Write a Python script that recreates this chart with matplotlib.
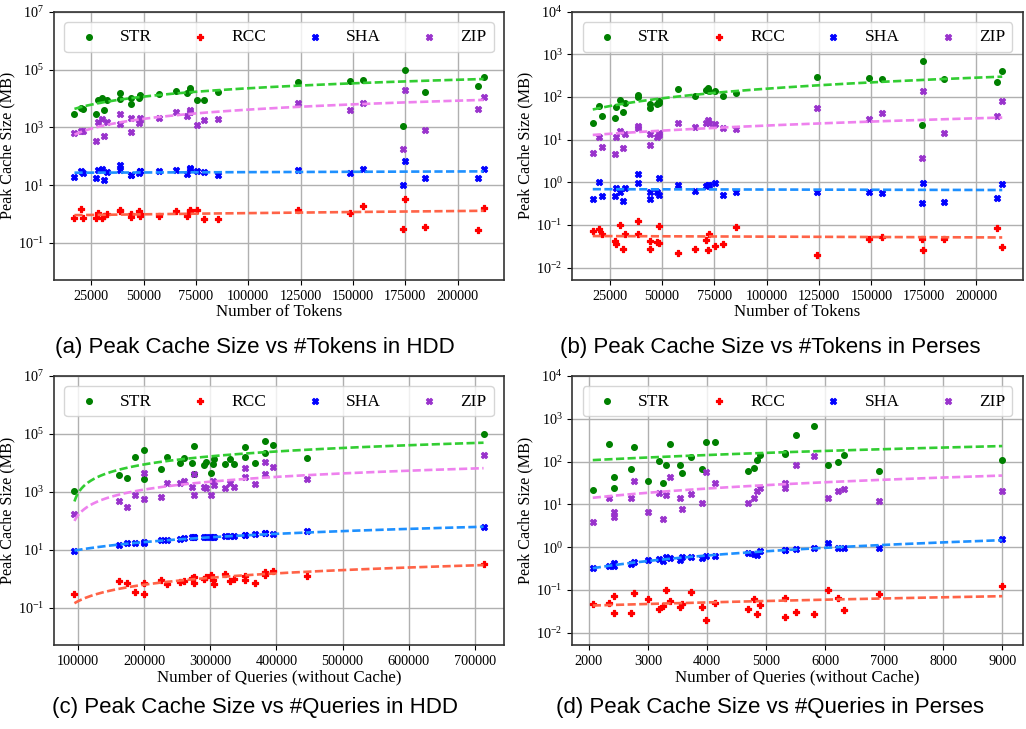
import numpy as np
import matplotlib
matplotlib.use("Agg")
import matplotlib.pyplot as plt
from matplotlib.ticker import NullLocator

plt.rcParams['font.family'] = ['Liberation Serif', 'DejaVu Serif']
plt.rcParams['mathtext.fontset'] = 'stix'

# ---------------- data ----------------
methods = ["STR", "RCC", "SHA", "ZIP"]

tokens = [17000, 19900, 21200, 27500, 28300, 30200, 31200, 32600, 38700, 38700,
          44100, 44100, 47800, 48500, 48500, 57600, 65600, 70800, 72100, 72400,
          75300, 79100, 85500, 123800, 148800, 155000, 173900, 174700, 184400,
          209700, 212400]

hdd_str = [2950, 4700, 4300, 2950, 8900, 10000, 4000, 9000, 15000, 9500, 6300, 10200,
           10200, 13400, 12000, 14500, 17500, 15000, 22700, 20000, 8500, 9000, 16500,
           37000, 40500, 42500, 1150, 100000, 16300, 28000, 57000]
hdd_rcc = [0.74, 1.45, 0.74, 0.72, 1.12, 0.72, 0.89, 0.97, 1.38, 1.24, 0.81, 0.98,
           1.24, 0.89, 1.0, 0.89, 1.24, 0.87, 1.38, 1.3, 1.38, 0.66, 0.66, 1.35, 1.07,
           1.95, 0.30, 3.4, 0.35, 0.29, 1.6]
hdd_sha = [19.5, 30, 27, 17.5, 33, 35, 15, 29, 48, 33, 22, 23, 27, 32, 30, 30, 34, 25,
           39, 36, 30, 29, 22, 33, 27, 36, 9.8, 66, 17.5, 17.5, 37]
hdd_zip = [620, 720, 760, 330, 1480, 1950, 510, 1580, 2950, 1350, 2100, 680, 1400, 2040,
           1800, 2040, 3400, 2400, 4050, 3500, 1200, 1740, 2000, 6900, 4000, 7200, 178,
           19500, 800, 4300, 11200]

perses_str = [24, 62, 35, 33, 59, 85, 44, 73, 112, 100, 68, 56, 68, 82, 72, 155, 105,
              146, 162, 140, 140, 105, 126, 290, 280, 260, 22, 700, 260, 225, 415]
perses_rcc = [0.071, 0.079, 0.062, 0.042, 0.036, 0.10, 0.028, 0.060, 0.123, 0.061,
              0.043, 0.028, 0.039, 0.093, 0.038, 0.022, 0.027, 0.045, 0.026, 0.062,
              0.033, 0.035, 0.089, 0.020, 0.047, 0.052, 0.046, 0.026, 0.047, 0.085, 0.030]
perses_sha = [0.41, 1.0, 0.49, 0.49, 0.72, 0.59, 0.36, 0.72, 1.55, 0.99, 0.58, 0.41,
              0.58, 1.23, 0.50, 0.87, 0.63, 0.81, 0.87, 0.85, 0.98, 0.51, 0.58, 0.59,
              0.60, 0.56, 0.33, 0.95, 0.35, 0.43, 0.89]
perses_zip = [5.0, 11.8, 6.6, 4.6, 11.3, 16.1, 6.5, 13.9, 21, 19, 13.3, 7.6, 11.7, 14.1,
              13, 25, 20, 24, 29, 25, 23, 19, 18, 56, 31, 43, 3.8, 141, 14, 35, 82]

hdd_queries = [95000, 162000, 174600, 187200, 199800, 200800, 226000, 234100, 254300,
               260800, 272900, 275500, 275500, 290600, 293100, 300700, 304200, 305700,
               322400, 329900, 336000, 352100, 352100, 367700, 382400, 382400, 395500,
               446900, 713100]
hddq_str = [1110, 3900, 2970, 16600, 28200, 2880, 6200, 16200, 10300, 14900, 10300, 39800,
            4150, 8700, 10500, 4400, 9300, 13500, 9300, 13500, 9300, 36000, 16500, 10300,
            57000, 22700, 42700, 15200, 100000]
hddq_rcc = [0.30, 0.85, 0.71, 0.36, 0.29, 0.75, 0.93, 0.68, 0.81, 0.88, 1.05, 1.2, 0.75,
            0.97, 1.2, 1.37, 0.93, 0.68, 1.45, 0.88, 0.97, 1.26, 0.95, 0.75, 1.37, 1.67,
            1.95, 1.26, 3.3]
hddq_sha = [9.5, 14.7, 17, 17.8, 17.8, 18.3, 22, 22, 24, 25, 27, 27.5, 27.5, 29, 29, 29,
            29, 29, 31, 31, 31, 33, 33, 35, 37.6, 37.6, 35.5, 46, 63]
hddq_zip = [178, 500, 310, 800, 4400, 590, 660, 2000, 2100, 2300, 1450, 4150, 790, 1500,
            1340, 790, 2300, 1740, 1340, 2000, 1450, 6900, 3400, 1900, 11200, 4150, 7100,
            2900, 19000]

perses_queries = [2068, 2344, 2423, 2435, 2717, 2762, 3005, 3191, 3259, 3315, 3383, 3552,
                  3580, 3739, 3914, 3993, 4134, 4693, 4800, 4840, 4896, 5314, 5314, 5512,
                  5810, 6048, 6222, 6324, 6922, 9000]
persesq_str = [22, 260, 44, 24, 66, 222, 35, 104, 32, 85, 260, 83, 55, 126, 66, 290, 280,
               59, 72, 107, 142, 155, 150, 415, 690, 81, 98, 142, 61, 110]
persesq_rcc = [0.046, 0.050, 0.029, 0.073, 0.029, 0.085, 0.062, 0.036, 0.042, 0.10, 0.055,
               0.039, 0.046, 0.089, 0.039, 0.020, 0.048, 0.036, 0.062, 0.027, 0.045, 0.063,
               0.023, 0.030, 0.027, 0.097, 0.063, 0.033, 0.081, 0.123]
persesq_sha = [0.33, 0.36, 0.36, 0.43, 0.40, 0.45, 0.49, 0.52, 0.48, 0.59, 0.57, 0.49,
               0.59, 0.59, 0.56, 0.61, 0.62, 0.74, 0.68, 0.65, 0.82, 0.87, 0.85, 0.89,
               0.97, 1.26, 0.97, 0.97, 0.97, 1.55]
persesq_zip = [3.8, 14.2, 6.7, 5.1, 13.7, 35, 6.7, 18.7, 4.5, 16.2, 43, 14.2, 7.8, 17.8,
               11, 56, 31, 11, 13.7, 20, 23.5, 31, 24.5, 81, 138, 13.7, 21, 23, 12, 20]

# linear trend lines (y = a + b*x), given by their value at the smallest and largest x
# order per panel: STR, RCC, SHA, ZIP
trend_start_a = [4350, 0.92, 27, 560]
trend_end_a = [47000, 1.3, 30, 8900]
trend_start_b = [51, 0.055, 0.69, 12.9]
trend_end_b = [300, 0.051, 0.66, 33]
trend_start_c = [470, 0.145, 9.5, 100]
trend_end_c = [50000, 3.0, 63, 6600]
trend_start_d = [108, 0.043, 0.32, 14.2]
trend_end_d = [230, 0.071, 1.45, 47]

xticks_tokens = [25000, 50000, 75000, 100000, 125000, 150000, 175000, 200000]
xticks_hddq = [100000, 200000, 300000, 400000, 500000, 600000, 700000]
xticks_persesq = [2000, 3000, 4000, 5000, 6000, 7000, 8000, 9000]
yticks_hdd = [1e-1, 1e1, 1e3, 1e5, 1e7]
yticks_perses = [1e-2, 1e-1, 1e0, 1e1, 1e2, 1e3, 1e4]

captions = ["(a) Peak Cache Size vs #Tokens in HDD",
            "(b) Peak Cache Size vs #Tokens in Perses",
            "(c) Peak Cache Size vs #Queries in HDD",
            "(d) Peak Cache Size vs #Queries in Perses"]
xlabels = ["Number of Tokens", "Number of Tokens",
           "Number of Queries (without Cache)", "Number of Queries (without Cache)"]

# ---------------- styling ----------------
point_colors = ["green", "red", "blue", "darkorchid"]
line_colors = ["limegreen", "tomato", "dodgerblue", "violet"]
markers = ["o", "P", "X", "X"]
sizes = [17, 20, 19, 19]

panels = [
    (tokens, [hdd_str, hdd_rcc, hdd_sha, hdd_zip], trend_start_a, trend_end_a,
     xticks_tokens, yticks_hdd, (10**-2.28, 1e7)),
    (tokens, [perses_str, perses_rcc, perses_sha, perses_zip], trend_start_b, trend_end_b,
     xticks_tokens, yticks_perses, (10**-2.29, 1e4)),
    (hdd_queries, [hddq_str, hddq_rcc, hddq_sha, hddq_zip], trend_start_c, trend_end_c,
     xticks_hddq, yticks_hdd, (10**-2.28, 1e7)),
    (perses_queries, [persesq_str, persesq_rcc, persesq_sha, persesq_zip], trend_start_d,
     trend_end_d, xticks_persesq, yticks_perses, (10**-2.29, 1e4)),
]

W, H = 1026, 729
fig = plt.figure(figsize=(W / 100, H / 100), dpi=100)

boxes = [(54, 11.7, 504, 280), (572.3, 11.7, 1022.7, 280),
         (54, 376, 504, 645), (572.3, 376, 1022.7, 645)]

for i, (xs, ys_list, t0, t1, xt, yt, ylim) in enumerate(panels):
    l, t, r, b = boxes[i]
    ax = fig.add_axes([l / W, 1 - b / H, (r - l) / W, (b - t) / H])
    x = np.asarray(xs, dtype=float)
    xx = np.linspace(x.min(), x.max(), 400)
    for k, ys in enumerate(ys_list):
        y = np.asarray(ys, dtype=float)
        ax.scatter(x, y, s=sizes[k], marker=markers[k], color=point_colors[k],
                   linewidths=0.9, label=methods[k], zorder=2)
        slope = (t1[k] - t0[k]) / (x.max() - x.min())
        yy = t0[k] + slope * (xx - x.min())
        ax.plot(xx, yy, linestyle=(0, (3.1, 1.3)), color=line_colors[k], lw=1.9, zorder=3)
    ax.set_yscale("log")
    ax.set_ylim(*ylim)
    ax.set_yticks(yt)
    ax.yaxis.set_minor_locator(NullLocator())
    ax.set_xticks(xt)
    ax.set_xticklabels([str(v) for v in xt])
    ax.tick_params(labelsize=10.3, length=3.5)
    ax.grid(True, color="#b0b0b0", lw=1.0)
    ax.set_axisbelow(True)
    for sp in ax.spines.values():
        sp.set_color("#333333")
        sp.set_linewidth(1.2)
    ax.set_xlabel(xlabels[i], fontsize=12.2, labelpad=1)
    ax.set_ylabel("Peak Cache Size (MB)", fontsize=11.6, labelpad=2)
    ax.legend(loc="upper center", ncol=4, mode="expand", bbox_to_anchor=(0, 0, 1, 1),
              borderaxespad=0.6, fontsize=12.5, markerscale=1.0, scatterpoints=1,
              handletextpad=0.8, fancybox=True)

cap_x = [255 / W, 770 / W, 255 / W, 770 / W]
cap_y = [1 - 347 / H, 1 - 347 / H, 1 - 708 / H, 1 - 708 / H]
for i, c in enumerate(captions):
    fig.text(cap_x[i], cap_y[i], c, ha="center", va="center", fontsize=16.0,
             family=["Liberation Sans", "DejaVu Sans"])

fig.savefig("out.png", dpi=100)
